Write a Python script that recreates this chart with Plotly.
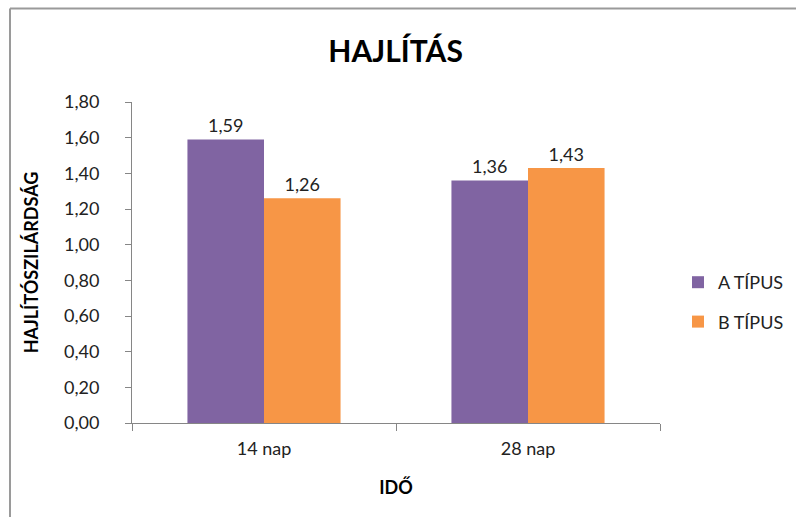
import plotly.graph_objects as go

categories = ["14 nap", "28 nap"]
series_a = [1.59, 1.36]
series_b = [1.26, 1.43]
series_names = ["A TÍPUS", "B TÍPUS"]
y_ticks = [0, 0.2, 0.4, 0.6, 0.8, 1.0, 1.2, 1.4, 1.6, 1.8]

FONT = "Lato"
AXIS_GRAY = "#868686"

fig = go.Figure()
for name, vals, color in [(series_names[0], series_a, "#8064A2"),
                          (series_names[1], series_b, "#F79646")]:
    fig.add_trace(go.Bar(
        x=categories, y=vals, name=name, legendgroup=name,
        marker=dict(color=color, line=dict(width=0)),
        texttemplate="%{y:.2f}", textposition="outside",
        textfont=dict(family=FONT, size=18, color="#222"),
        cliponaxis=False,
    ))

L, R, T, B = 132, 136, 102, 94

fig.update_layout(
    width=796, height=517,
    margin=dict(l=L, r=R, t=T, b=B, autoexpand=False),
    paper_bgcolor="white", plot_bgcolor="white",
    separators=",.",
    barmode="group", bargap=0.42, bargroupgap=0,
    font=dict(family=FONT, size=18, color="#222"),
    title=dict(text="<b>HAJLÍTÁS</b>", x=0.497, xanchor="center",
               y=1 - 51 / 517, yanchor="middle",
               font=dict(family=FONT, size=30, color="#000")),
    legend=dict(xref="container", yref="container",
                x=678 / 796, xanchor="left", y=1 - 302 / 517, yanchor="middle",
                font=dict(family=FONT, size=18, color="#222"),
                tracegroupgap=13, itemwidth=30, bgcolor="rgba(0,0,0,0)"),
    xaxis=dict(
        automargin=False,
        showline=True, linecolor=AXIS_GRAY, linewidth=1,
        ticks="outside", ticklen=7, tickcolor=AXIS_GRAY, tickson="boundaries",
        ticklabelstandoff=9,
        tickfont=dict(family=FONT, size=18, color="#222"),
        title=dict(text="<b>IDŐ</b>", standoff=23,
                   font=dict(family=FONT, size=18, color="#000")),
        showgrid=False,
    ),
    yaxis=dict(
        automargin=False,
        range=[0, 1.8], tickvals=y_ticks, tickformat=".2f",
        showline=True, linecolor=AXIS_GRAY, linewidth=1,
        ticks="outside", ticklen=6, tickcolor=AXIS_GRAY,
        ticklabelstandoff=22,
        tickfont=dict(family=FONT, size=18, color="#222"),
        title=dict(text="<b>HAJLÍTÓSZILÁRDSÁG</b>", standoff=20,
                   font=dict(family=FONT, size=18, color="#000")),
        showgrid=False, zeroline=False,
    ),
)

# chart-area frame (left and top edges)
pw, ph = 796 - L - R, 517 - T - B
def px(x):
    return (x - L) / pw
def py(y):
    return (517 - B - y) / ph
fig.add_shape(type="line", xref="paper", yref="paper",
              x0=px(10), y0=py(8.5), x1=px(796), y1=py(8.5),
              line=dict(color="#9a9a9a", width=2))
fig.add_shape(type="line", xref="paper", yref="paper",
              x0=px(10), y0=py(8.5), x1=px(10), y1=py(517),
              line=dict(color="#9a9a9a", width=2))

fig.write_html("out.html")
